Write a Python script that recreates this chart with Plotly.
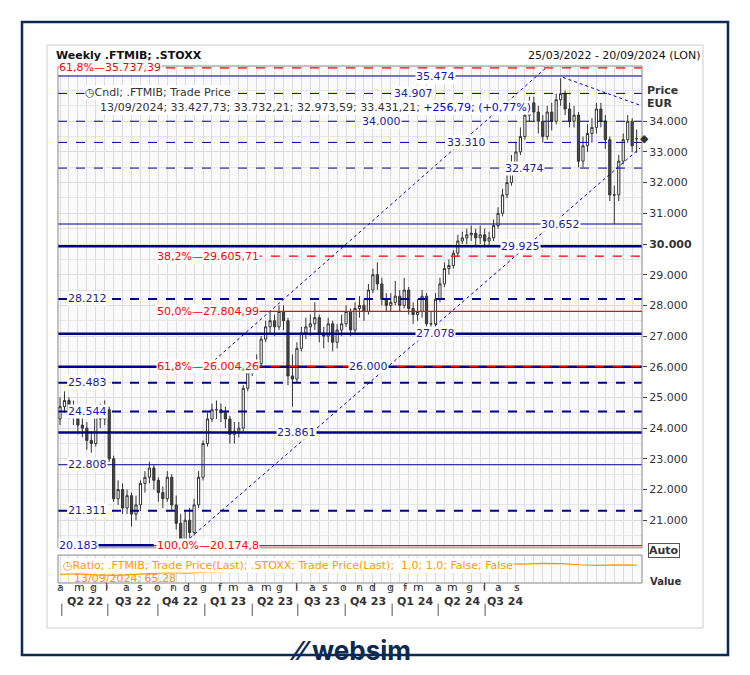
import plotly.graph_objects as go

closes = [24.7,24.9,24.5,24.4,24.1,24.0,23.6,23.5,24.4,24.3,24.6,23.0,21.7,22.0,21.4,21.8,21.2,21.5,22.2,22.4,
22.7,22.3,21.9,21.7,22.4,21.5,20.9,20.3,21.0,20.6,21.5,22.4,23.5,24.3,24.6,24.6,24.5,24.3,23.8,23.9,
24.0,25.3,25.8,26.0,26.1,26.9,27.3,27.5,27.3,27.8,27.5,25.7,25.6,26.6,27.1,27.3,27.4,27.6,27.1,27.0,
27.4,26.8,27.2,27.4,27.8,27.2,27.9,28.0,27.8,28.5,29.0,28.7,28.2,28.0,28.1,28.3,28.0,28.5,27.9,27.7,
27.8,28.3,27.4,27.4,28.2,28.7,29.2,29.3,29.7,30.1,30.2,30.3,30.35,30.2,30.3,30.1,30.2,30.6,31.0,31.6,
32.0,32.6,33.0,33.5,34.2,34.6,34.3,34.0,33.5,34.3,34.0,34.7,34.9,34.4,34.0,34.2,32.7,33.2,33.6,33.8,
34.4,34.0,33.4,31.6,31.6,32.7,33.4,34.0,33.2,33.43]
highs = [25.0,25.2,25.0,24.9,24.6,24.4,24.2,23.9,24.6,24.8,24.9,24.7,23.1,22.3,22.2,22.0,21.9,21.8,22.3,22.6,
22.9,22.8,22.4,22.1,22.6,22.5,21.8,21.2,21.3,21.4,21.7,22.6,23.6,24.5,24.8,24.9,24.8,24.7,24.4,24.2,
24.2,25.4,26.0,26.2,26.4,27.0,27.5,27.8,27.7,28.0,28.0,27.6,26.4,26.8,27.3,27.6,27.7,28.1,27.7,27.3,
27.6,27.5,27.4,27.7,28.0,27.9,28.1,28.3,28.2,28.7,29.2,29.4,28.9,28.4,28.4,28.8,28.5,28.9,28.6,28.1,
28.2,28.5,28.4,27.8,28.4,28.9,29.4,29.5,29.8,30.3,30.4,30.5,30.6,30.5,30.6,30.5,30.4,30.8,31.2,31.8,
32.3,32.9,33.3,33.8,34.4,34.8,34.8,34.5,34.2,34.5,34.6,34.9,35.4,35.0,34.6,34.5,34.3,33.5,33.9,34.1,
34.6,34.6,34.2,33.5,31.9,32.9,33.6,34.2,34.1,33.73]
lows = [24.1,24.5,24.3,24.1,23.8,23.7,23.3,23.2,23.4,24.0,24.1,22.9,21.6,21.5,21.2,21.2,20.8,21.0,21.3,21.9,
22.2,22.0,21.6,21.4,21.6,21.3,20.7,20.2,20.2,20.4,20.5,21.4,22.3,23.4,24.2,24.3,24.2,24.0,23.5,23.5,
23.7,23.9,25.2,25.7,25.8,26.0,26.8,27.1,27.0,27.2,27.2,25.4,24.7,25.5,26.5,26.9,27.0,27.2,26.8,26.6,
26.8,26.5,26.6,27.0,27.3,27.0,27.1,27.6,27.5,27.7,28.4,28.5,28.0,27.8,27.8,28.0,27.8,27.9,27.7,27.4,
27.5,27.6,27.1,27.1,27.3,28.1,28.6,29.0,29.2,29.6,30.0,30.0,30.1,29.9,30.0,29.9,29.9,30.1,30.5,30.9,
31.5,31.9,32.5,32.9,33.4,34.0,34.0,33.6,33.3,33.4,33.7,33.9,34.5,34.2,33.8,33.8,32.5,32.5,33.0,33.3,
33.6,33.8,33.1,31.4,30.65,31.4,32.6,33.3,33.0,32.97]
first_open = 24.3
last_open = 33.43

opens = [first_open] + closes[:-1]
opens[-1] = last_open
weeks = list(range(len(closes)))

ratio_weeks = list(range(0, 130, 4)) + [129]
ratio_vals = [61.0,61.3,60.8,60.5,60.9,61.4,61.8,61.6,62.0,62.3,62.6,62.9,63.4,63.1,62.8,63.3,63.6,63.9,64.1,
64.3,64.6,64.7,64.9,65.2,65.6,65.9,65.8,66.1,66.0,65.5,65.2,65.4,65.3,65.28]

month_labels = list("amglasondgfmamglasondgfmamglas")
month_pos = [0,4.25,7.4,10.5,14.8,17.9,21.7,25.3,28.4,32.2,35.8,38.7,42.7,46.1,49.2,53.0,56.4,59.3,63.5,66.9,
70.0,74.0,77.4,80.3,84.6,87.9,91.5,94.9,98.2,102.2]
quarter_labels = ["Q2 22","Q3 22","Q4 22","Q1 23","Q2 23","Q3 23","Q4 23","Q1 24","Q2 24","Q3 24"]
quarter_pos = [5.6,16.3,26.8,37.6,48.1,58.6,68.9,79.4,89.9,99.6]
quarter_sep = [0.4,10.7,21.9,32.4,43,53.2,63.8,74.3,84.6,95.1]

ytick_vals = list(range(21, 35))
ytick_text = [f"{v}.000" if v != 30 else "<b>30.000</b>" for v in ytick_vals]

NAVY = "#00008b"
RED = "#ff0000"
levels = [
    (35.474, "35.474", 84, NAVY, "solid", 1),
    (34.907, "34.907", 79, NAVY, "dash", 1),
    (34.000, "34.000", 72, NAVY, "dash", 1),
    (33.310, "33.310", 91, NAVY, "dash", 1),
    (32.474, "32.474", 104, NAVY, "dash", 1),
    (30.652, "30.652", 112, NAVY, "solid", 1),
    (29.925, "29.925", 103, NAVY, "solid", 2.5),
    (28.212, "28.212", 1.5, NAVY, "dash", 2),
    (27.078, "27.078", 84, NAVY, "solid", 2.5),
    (26.000, "26.000", 69, NAVY, "solid", 2.5),
    (25.483, "25.483", 1.5, NAVY, "dash", 2),
    (24.544, "24.544", 1.5, NAVY, "dash", 2),
    (23.861, "23.861", 53, NAVY, "solid", 2.5),
    (22.808, "22.808", 1.5, NAVY, "solid", 1),
    (21.311, "21.311", 1.5, NAVY, "dash", 2),
]
fib = [
    (35.737, "61,8%—35.737,39", 2.5, "dash", -0.45),
    (29.605, "38,2%—29.605,71", 33, "dash", 23),
    (27.805, "50,0%—27.804,99", 33, "solid", 23),
    (26.004, "61,8%—26.004,26", 33, "dash", 23),
    (20.175, "100,0%—20.174,8", 33, "solid", 21),
]
low_line = (20.183, "20.183", 1.5, 7, 21)
channel_upper = ([33.6, 108.5], [26.09, 35.71])
channel_lower = ([29.1, 129.8], [20.42, 33.13])
down_trend = ([112.5, 129.8], [35.43, 34.52])

fig = go.Figure()
fig.add_trace(go.Candlestick(x=weeks, open=opens, high=highs, low=lows, close=closes,
    increasing=dict(line=dict(color="#333333", width=1), fillcolor="white"),
    decreasing=dict(line=dict(color="#333333", width=1), fillcolor="#444444"),
    whiskerwidth=0, showlegend=False, xaxis="x", yaxis="y"))

for xs, ys in [channel_upper, channel_lower, down_trend]:
    fig.add_trace(go.Scatter(x=xs, y=ys, mode="lines", line=dict(color="#0000cc", width=1, dash="dot"),
                             showlegend=False, hoverinfo="skip"))
fig.add_trace(go.Scatter(x=ratio_weeks, y=ratio_vals, mode="lines", line=dict(color="#ff9900", width=1.2),
                         xaxis="x", yaxis="y2", showlegend=False))

shapes = []
ann = []
for v, lab, lx, col, dash, w in levels:
    shapes.append(dict(type="line", xref="x", yref="y", x0=-0.45, x1=130.2, y0=v, y1=v,
                       line=dict(color=col, width=w, dash=dash), layer="above"))
    ann.append(dict(xref="x", yref="y", x=lx, y=v, text=lab, showarrow=False, xanchor="left" if lx < 5 else "center",
                    font=dict(color="#1a1aa8", size=11), bgcolor="white", borderpad=0))
for v, lab, lx, dash, x0 in fib:
    shapes.append(dict(type="line", xref="x", yref="y", x0=x0, x1=130.2, y0=v, y1=v,
                       line=dict(color=RED, width=1.3, dash=dash), layer="above"))
    ann.append(dict(xref="x", yref="y", x=lx if lx > 5 else -0.45, y=v, text=lab, showarrow=False,
                    xanchor="center" if lx > 5 else "left", font=dict(color=RED, size=11),
                    bgcolor="white", borderpad=0))
v, lab, lx, x0, x1 = low_line
shapes.append(dict(type="line", xref="x", yref="y", x0=x0, x1=x1, y0=v, y1=v,
                   line=dict(color=NAVY, width=2.5), layer="above"))
ann.append(dict(xref="x", yref="y", x=-0.45, y=v, text=lab, showarrow=False, xanchor="left",
                font=dict(color="#1a1aa8", size=11), bgcolor="white", borderpad=0))

for lab, p in zip(month_labels, month_pos):
    ann.append(dict(xref="x", yref="paper", x=p, y=-0.026, text=lab, showarrow=False,
                    font=dict(size=11, color="#333")))
    shapes.append(dict(type="line", xref="x", yref="paper", x0=p, x1=p, y0=-0.004, y1=-0.012,
                       line=dict(color="#555", width=1)))
for lab, p in zip(quarter_labels, quarter_pos):
    ann.append(dict(xref="x", yref="paper", x=p, y=-0.052, text=f"<b>{lab}</b>", showarrow=False,
                    font=dict(size=11, color="#333")))
for p in quarter_sep:
    shapes.append(dict(type="line", xref="x", yref="paper", x0=p, x1=p, y0=-0.04, y1=-0.064,
                       line=dict(color="#555", width=1)))

shapes += [
    dict(type="rect", xref="paper", yref="paper", x0=-(58-22)/584, x1=1+(728-642)/584, y0=-(655-583)/517,
         y1=1+(66-22)/517, line=dict(color="#0d2a52", width=2.5), layer="below"),
    dict(type="rect", xref="paper", yref="paper", x0=-(58-47)/584, x1=1+(703-642)/584, y0=-(628-583)/517,
         y1=1+(66-45)/517, line=dict(color="#cccccc", width=1), layer="below"),
    dict(type="rect", xref="paper", yref="paper", x0=0, x1=1, y0=0.068, y1=1, line=dict(color="#888", width=1)),
    dict(type="rect", xref="paper", yref="paper", x0=0, x1=1, y0=0, y1=0.054, line=dict(color="#888", width=1)),
]

ann += [
    dict(xref="paper", yref="paper", x=-0.006, y=1+(66-55)/517, yanchor="middle", xanchor="left",
         text="<b>Weekly .FTMIB; .STOXX</b>", showarrow=False, font=dict(size=11, color="#111")),
    dict(xref="paper", yref="paper", x=1+(702-642)/584, y=1+(66-55)/517, yanchor="middle", xanchor="right",
         text="25/03/2022 - 20/09/2024 (LON)", showarrow=False, font=dict(size=11, color="#111")),
    dict(xref="paper", yref="paper", x=(84-58)/584, y=1-(93-66)/517, xanchor="left", yanchor="middle",
         text="◷Cndl; .FTMIB; Trade Price", showarrow=False, font=dict(size=11, color="#333"), bgcolor="white", borderpad=0),
    dict(xref="paper", yref="paper", x=(99-58)/584, y=1-(107-66)/517, xanchor="left", yanchor="middle",
         text="13/09/2024; 33.427,73; 33.732,21; 32.973,59; 33.431,21; <span style='color:#0000ee'>+256,79; (+0,77%)</span>",
         showarrow=False, font=dict(size=11, color="#333"), bgcolor="white", borderpad=0),
    dict(xref="paper", yref="paper", x=1+(645-642)/584, y=1-(90-66)/517, xanchor="left", yanchor="middle",
         text="<b>Price</b>", showarrow=False, font=dict(size=11, color="#333")),
    dict(xref="paper", yref="paper", x=1+(645-642)/584, y=1-(104-66)/517, xanchor="left", yanchor="middle",
         text="<b>EUR</b>", showarrow=False, font=dict(size=11, color="#333")),
    dict(xref="paper", yref="paper", x=1+(638-642)/584, y=1-(138-66)/517, xanchor="left", yanchor="middle",
         text="◆", showarrow=False, font=dict(size=11, color="#333")),
    dict(xref="paper", yref="paper", x=1+(648-642)/584, y=(583-550)/517, xanchor="left", yanchor="middle",
         text="<b>Auto</b>", showarrow=False, font=dict(size=11, color="#333"), bordercolor="#555", borderwidth=1, borderpad=0, bgcolor="white"),
    dict(xref="paper", yref="paper", x=1+(648-642)/584, y=(583-581)/517, xanchor="left", yanchor="middle",
         text="<b>Value</b>", showarrow=False, font=dict(size=10, color="#333")),
    dict(xref="paper", yref="paper", x=(62-58)/584, y=(583-565)/517, xanchor="left", yanchor="middle",
         text="◷Ratio; .FTMIB; Trade Price(Last); .STOXX; Trade Price(Last);  1,0; 1,0; False; False",
         showarrow=False, font=dict(size=11, color="#ff9900"), bgcolor="white", borderpad=0),
    dict(xref="paper", yref="paper", x=(72-58)/584, y=(583-578)/517, xanchor="left", yanchor="middle",
         text="13/09/2024; 65,28", showarrow=False, font=dict(size=11, color="#ff9900")),
    dict(xref="paper", yref="paper", x=0.5, y=-(650-583)/517, xanchor="center", yanchor="middle",
         text="<b>⁄⁄ websim</b>", showarrow=False, font=dict(size=26, color="#0d2a52", family="Inter")),
]

fig.update_layout(
    width=742, height=667, margin=dict(l=50, r=108, t=58, b=92),
    paper_bgcolor="white", plot_bgcolor="#fafafa",
    font=dict(family="DejaVu Sans", size=11, color="#333"),
    shapes=shapes, annotations=ann,
    xaxis=dict(range=[-0.45, 130.2], showticklabels=False, showgrid=True, dtick=2, tick0=0,
               gridcolor="#dddddd", zeroline=False, rangeslider=dict(visible=False), ticks=""),
    yaxis=dict(domain=[0.068, 1], range=[20.1, 35.8], side="right", tickvals=ytick_vals, ticktext=ytick_text,
               showgrid=True, gridcolor="#dddddd", minor=dict(dtick=0.5, showgrid=True, gridcolor="#e6e6e6"),
               ticks="outside", ticklen=4, tickfont=dict(size=11, color="#333"), zeroline=False),
    yaxis2=dict(domain=[0, 0.054], range=[57, 70], side="right", showticklabels=False, showgrid=False, zeroline=False),
)
fig.write_html("out.html")
